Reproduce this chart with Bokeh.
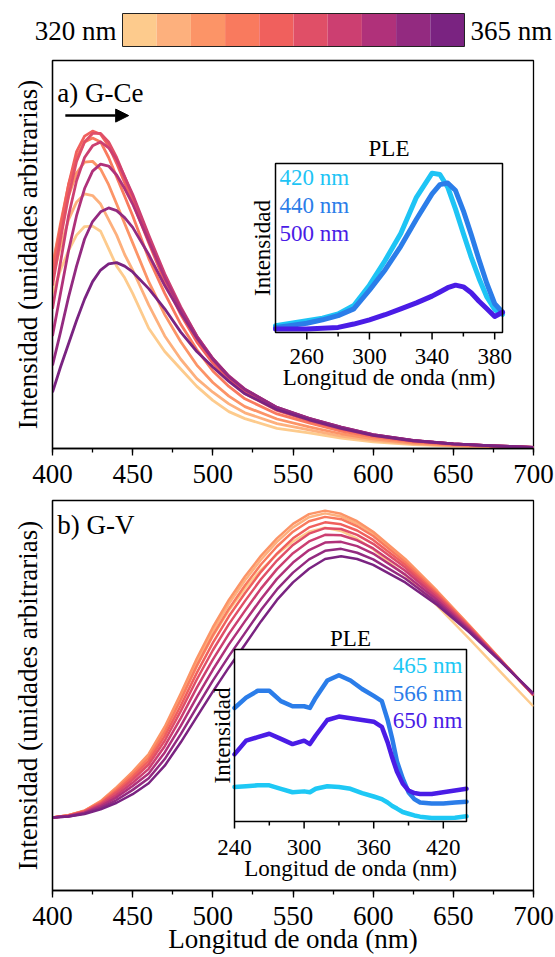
import numpy as np
from bokeh.plotting import figure
from bokeh.layouts import column
from bokeh.models import (Range1d, SingleIntervalTicker, FixedTicker, Arrow, NormalHead,
                          LinearAxis, CustomJSTickFormatter)
from bokeh.core.properties import value
from bokeh.embed import file_html
from bokeh.resources import INLINE

FONT_NAME = "Liberation Serif"

# ---------------- data ----------------
exc_nm = [320, 325, 330, 335, 340, 345, 350, 355, 360, 365]
exc_colors = ["#FDCB8D", "#FDB07D", "#FC9467", "#F97A5E", "#F0605D",
              "#E04F67", "#CC3F71", "#B0317A", "#932A80", "#7A2381"]

# a) G-Ce emission (normalised, arbitrary units)
ce_nm = [400, 405, 410, 415, 420, 425, 430, 435, 440, 445, 450, 460, 470, 480,
         490, 500, 510, 520, 540, 560, 580, 600, 625, 650, 675, 700]
ce_320 = [.40, .46, .51, .55, .572, .573, .56, .515, .47, .44, .40, .31, .25, .205,
          .16, .124, .095, .077, .052, .040, .027, .017, .010, .006, .004, .002]
ce_325 = [.44, .52, .59, .635, .656, .652, .63, .59, .55, .50, .46, .37, .29, .23,
          .18, .145, .115, .092, .064, .048, .032, .021, .012, .007, .004, .002]
ce_330 = [.47, .57, .65, .71, .738, .74, .72, .68, .63, .58, .53, .43, .345, .275,
          .215, .17, .135, .108, .076, .056, .038, .025, .014, .008, .005, .002]
ce_335 = [.47, .58, .68, .75, .79, .80, .79, .75, .70, .65, .60, .49, .40, .32,
          .255, .20, .16, .128, .089, .066, .045, .030, .017, .010, .006, .003]
ce_340 = [.45, .57, .68, .765, .805, .818, .81, .78, .735, .685, .635, .53, .43, .345,
          .275, .22, .177, .142, .098, .072, .050, .033, .019, .011, .007, .003]
ce_345 = [.42, .54, .65, .74, .79, .812, .812, .79, .75, .70, .65, .545, .445, .36,
          .285, .228, .183, .148, .102, .075, .052, .034, .020, .012, .007, .003]
ce_350 = [.36, .48, .60, .69, .75, .78, .79, .775, .745, .70, .655, .55, .45, .365,
          .29, .232, .186, .152, .105, .077, .054, .035, .020, .012, .007, .003]
ce_355 = [.29, .40, .51, .60, .67, .715, .733, .728, .705, .67, .63, .535, .44, .36,
          .29, .232, .187, .153, .106, .078, .055, .036, .021, .012, .007, .003]
ce_360 = [.214, .30, .39, .47, .54, .585, .61, .62, .613, .595, .57, .50, .42, .35,
          .285, .23, .185, .152, .106, .078, .055, .036, .021, .012, .007, .003]
ce_365 = [.145, .21, .27, .33, .385, .43, .46, .476, .479, .47, .455, .412, .36, .30,
          .25, .21, .173, .141, .100, .074, .052, .034, .020, .012, .007, .003]
ce_series = [ce_320, ce_325, ce_330, ce_335, ce_340, ce_345, ce_350, ce_355, ce_360, ce_365]

# b) G-V emission
gv_nm = [400, 410, 420, 430, 440, 450, 460, 470, 480, 490, 500, 510, 520, 530, 540, 550,
         560, 570, 580, 590, 600, 620, 640, 660, 680, 700]
gv_320 = [.187, .193, .204, .227, .261, .298, .342, .41, .49, .575, .652, .718, .774, .822,
          .862, .895, .92, .93, .922, .902, .875, .808, .73, .645, .558, .472]
gv_325 = [.187, .193, .204, .228, .263, .302, .346, .414, .498, .586, .665, .735, .795, .848,
          .894, .931, .957, .967, .959, .941, .915, .846, .766, .679, .59, .50]
gv_330 = [.187, .193, .205, .229, .265, .305, .35, .42, .505, .595, .675, .745, .805, .858,
          .903, .94, .965, .974, .966, .947, .92, .85, .768, .68, .59, .50]
gv_335 = [.187, .193, .204, .227, .26, .298, .34, .407, .489, .576, .654, .722, .782, .836,
          .882, .92, .947, .958, .952, .934, .909, .842, .763, .678, .589, .50]
gv_340 = [.187, .192, .203, .224, .255, .291, .332, .396, .474, .558, .635, .703, .762, .817,
          .864, .903, .931, .944, .939, .923, .899, .835, .759, .676, .589, .501]
gv_345 = [.187, .192, .202, .222, .251, .284, .323, .384, .46, .541, .616, .683, .742, .798,
          .846, .886, .915, .929, .927, .912, .889, .828, .755, .674, .588, .502]
gv_350 = [.187, .191, .20, .219, .245, .276, .312, .37, .442, .52, .592, .658, .717, .774,
          .824, .865, .895, .912, .911, .898, .877, .82, .75, .671, .587, .502]
gv_355 = [.187, .191, .199, .216, .239, .268, .30, .354, .422, .496, .566, .631, .69, .747,
          .799, .841, .873, .892, .894, .883, .864, .81, .744, .668, .587, .503]
gv_360 = [.187, .19, .198, .212, .232, .258, .288, .337, .401, .47, .538, .601, .66, .719,
          .772, .815, .849, .871, .876, .866, .849, .80, .738, .665, .586, .504]
gv_365 = [.187, .19, .196, .208, .225, .247, .275, .32, .38, .445, .51, .572, .63, .69,
          .745, .79, .825, .85, .857, .85, .835, .79, .732, .662, .585, .505]
gv_series = [gv_320, gv_325, gv_330, gv_335, gv_340, gv_345, gv_350, gv_355, gv_360, gv_365]

# PLE insets
pleA_nm = [240, 250, 260, 270, 280, 290, 300, 310, 320, 330, 340, 345, 350, 355,
           360, 365, 370, 375, 380, 385]
pleA_420 = [.04, .055, .07, .085, .11, .16, .28, .426, .586, .80, .943, .935, .86, .73,
            .586, .446, .32, .21, .136, .107]
pleA_440 = [.03, .042, .055, .075, .10, .14, .25, .37, .51, .67, .82, .875, .885, .84,
            .72, .58, .43, .29, .17, .12]
pleA_500 = [.02, .02, .02, .025, .03, .05, .075, .105, .14, .175, .215, .24, .265, .28,
            .27, .235, .185, .14, .095, .12]
pleA_labels = ["420 nm", "440 nm", "500 nm"]
pleA_colors = ["#1EC4F5", "#2B7DE9", "#4A1CE6"]
pleA_ticks = [260, 300, 340, 380]
pleA_minor = [280, 320, 360]

pleB_nm = [240, 250, 260, 270, 280, 290, 300, 305, 310, 320, 330, 340, 350, 360,
           367, 372, 376, 380, 385, 390, 395, 400, 410, 420, 430, 440]
pleB_465 = [.20, .205, .21, .21, .19, .17, .175, .17, .19, .205, .20, .19, .165, .145,
            .13, .11, .09, .075, .055, .045, .035, .028, .02, .02, .022, .03]
pleB_566 = [.66, .72, .76, .76, .70, .67, .67, .66, .72, .82, .85, .82, .77, .73,
            .70, .59, .48, .35, .25, .17, .13, .11, .105, .105, .11, .115]
pleB_650 = [.39, .47, .49, .51, .48, .45, .47, .45, .50, .59, .61, .60, .59, .58,
            .55, .46, .37, .29, .22, .18, .165, .16, .16, .17, .18, .19]
pleB_labels = ["465 nm", "566 nm", "650 nm"]
pleB_colors = ["#1EC8F5", "#2B7DE9", "#4A1CE6"]
pleB_ticks = [240, 300, 360, 420]
pleB_minor = [270, 330, 390]

# ---------------- layout constants ----------------
W = 555
BL, BR = 52, 22          # left / right borders -> frame 52..533
MAIN_FS = "27px"
INS_FS = "23px"


def txt(g, **kw):
    kw.setdefault("text_font", value(FONT_NAME))
    kw.setdefault("text_color", "black")
    kw.setdefault("text_baseline", "middle")
    return g.text(**kw)


def style_main(p):
    p.grid.visible = False
    p.outline_line_color = "black"
    p.outline_line_width = 1.3
    for ax in p.xaxis + p.yaxis:
        ax.axis_line_color = "black"
        ax.axis_line_width = 1.3
        ax.major_tick_line_color = "black"
        ax.minor_tick_line_color = "black"
        ax.major_tick_line_width = 1.3
        ax.minor_tick_line_width = 1.3
        ax.major_tick_in = 0
        ax.minor_tick_in = 0
        ax.major_label_text_font = FONT_NAME
        ax.major_label_text_font_size = MAIN_FS
        ax.major_label_text_color = "black"
        ax.major_label_text_line_height = 1.0
        ax.axis_label_text_font = FONT_NAME
        ax.axis_label_text_font_size = MAIN_FS
        ax.axis_label_text_font_style = "normal"
        ax.axis_label_text_color = "black"
        ax.axis_label_text_line_height = 1.0
    p.xaxis.ticker = SingleIntervalTicker(interval=50, num_minor_ticks=2)
    p.xaxis.major_tick_out = 7
    p.xaxis.minor_tick_out = 4
    p.xaxis.major_label_standoff = 9
    p.yaxis.ticker = FixedTicker(ticks=[])
    p.yaxis.major_tick_out = 0
    p.yaxis.minor_tick_out = 0
    p.yaxis.axis_label = "Intensidad (unidades arbitrarias)"
    p.yaxis.axis_label_standoff = 10


def add_inset(p, nm, series, colors, labels, ticks, minor, xs, xt, yt, h_px,
              lw, legend_left, tick_off, lab_off, title_off, ylab_off, legend_offs):
    x_src = Range1d(*xs)
    y_src = Range1d(0, 1)
    xy = p.subplot(x_source=x_src, y_source=y_src,
                   x_target=Range1d(*xt), y_target=Range1d(*yt))
    xy.quad(left=[x_src.start], right=[x_src.end], bottom=[0], top=[1],
            fill_color="white", line_color=None)
    for ys, c in zip(series, colors):
        xy.line(nm, ys, line_color=c, line_width=lw, line_join="round", line_cap="round")
    xy.quad(left=[x_src.start], right=[x_src.end], bottom=[0], top=[1],
            fill_color=None, line_color="black", line_width=1.5)
    maj = 7.0 / h_px
    mnr = 4.0 / h_px
    xy.segment(x0=ticks, y0=[0] * len(ticks), x1=ticks, y1=[-maj] * len(ticks),
               line_color="black", line_width=1.5)
    xy.segment(x0=minor, y0=[0] * len(minor), x1=minor, y1=[-mnr] * len(minor),
               line_color="black", line_width=1.5)
    txt(xy, x=ticks, y=[0] * len(ticks), text=[str(t) for t in ticks], y_offset=tick_off,
        text_align="center", text_font_size=INS_FS)
    xmid = (x_src.start + x_src.end) / 2
    txt(xy, x=[xmid], y=[0], text=["Longitud de onda (nm)"], y_offset=lab_off,
        text_align="center", text_font_size=INS_FS)
    txt(xy, x=[xmid], y=[1], text=["PLE"], y_offset=title_off,
        text_align="center", text_font_size=INS_FS)
    txt(xy, x=[x_src.start], y=[0.5], text=["Intensidad"], x_offset=ylab_off,
        angle=np.pi / 2, text_align="center", text_font_size=INS_FS)
    if legend_left:
        lx, al, xo = x_src.start, "left", 4
    else:
        lx, al, xo = x_src.end, "right", -4
    for lab, c, off in zip(labels, colors, legend_offs):
        txt(xy, x=[lx], y=[1], text=[lab], x_offset=xo, y_offset=off,
            text_align=al, text_font_size=INS_FS, text_color=c)


# ---------------- colour bar ----------------
cb = figure(width=W, height=54, x_range=Range1d(307.266, 377.588), y_range=Range1d(0, 1),
            toolbar_location=None, output_backend="svg", x_axis_location=None,
            y_axis_location="left", min_border_left=BL, min_border_right=BR,
            min_border_top=0, min_border_bottom=0)
cb.grid.visible = False
cb.outline_line_color = None
half = (exc_nm[1] - exc_nm[0]) / 2
cb.quad(left=[e - half for e in exc_nm], right=[e + half for e in exc_nm],
        bottom=0.148, top=0.759, fill_color=exc_colors, line_color=None)
cb.quad(left=[exc_nm[0] - half], right=[exc_nm[-1] + half], bottom=0.148, top=0.759,
        fill_color=None, line_color="#222222", line_width=1)
cb.add_layout(LinearAxis(), "right")
for ax, lab, so in ((cb.yaxis[0], f"{exc_nm[0]} nm", -64), (cb.yaxis[1], f"{exc_nm[-1]} nm", -63)):
    ax.ticker = FixedTicker(ticks=[0.444])
    ax.formatter = CustomJSTickFormatter(code=f"return '{lab}'")
    ax.axis_line_color = None
    ax.major_tick_line_color = None
    ax.minor_tick_line_color = None
    ax.major_tick_out = 0
    ax.major_tick_in = 0
    ax.major_label_standoff = so
    ax.major_label_text_font = FONT_NAME
    ax.major_label_text_font_size = MAIN_FS
    ax.major_label_text_color = "black"

# ---------------- panel a ----------------
p1 = figure(width=W, height=438, x_range=Range1d(400, 700), y_range=Range1d(0, 1),
            toolbar_location=None, output_backend="svg",
            min_border_left=BL, min_border_right=BR, min_border_top=6, min_border_bottom=44)
style_main(p1)
for ys, c in zip(ce_series, exc_colors):
    p1.line(ce_nm, ys, line_color=c, line_width=2.8, line_join="round")
txt(p1, x=[403], y=[0.9175], text=["a) G-Ce"], text_align="left", text_font_size=MAIN_FS)
p1.add_layout(Arrow(end=NormalHead(size=13, fill_color="black", line_color="black"),
                    x_start=408, y_start=0.858, x_end=447.5, y_end=0.858,
                    line_width=2.5, line_color="black"))
add_inset(p1, pleA_nm, [pleA_420, pleA_440, pleA_500], pleA_colors, pleA_labels,
          pleA_ticks, pleA_minor, xs=(240, 385), xt=(539.09, 680.67), yt=(0.299, 0.7345),
          h_px=169, lw=5, legend_left=True, tick_off=24, lab_off=45, title_off=-15,
          ylab_off=-13, legend_offs=[14, 42, 70])

# ---------------- panel b ----------------
p2 = figure(width=W, height=464, x_range=Range1d(400, 700), y_range=Range1d(0, 1),
            toolbar_location=None, output_backend="svg",
            min_border_left=BL, min_border_right=BR, min_border_top=8, min_border_bottom=66)
style_main(p2)
p2.xaxis.axis_label = "Longitud de onda (nm)"
p2.xaxis.axis_label_standoff = -4
for ys, c in zip(gv_series, exc_colors):
    p2.line(gv_nm, ys, line_color=c, line_width=2.5, line_join="round")
txt(p2, x=[403], y=[0.936], text=["b) G-V"], text_align="left", text_font_size=MAIN_FS)
add_inset(p2, pleB_nm, [pleB_465, pleB_566, pleB_650], pleB_colors, pleB_labels,
          pleB_ticks, pleB_minor, xs=(240, 440), xt=(513.52, 658.22), yt=(0.177, 0.618),
          h_px=172, lw=4.5, legend_left=False, tick_off=26, lab_off=47, title_off=-11,
          ylab_off=-12, legend_offs=[16, 44, 71])

layout = column(cb, p1, p2, spacing=0)
open("out.html", "w").write(file_html(layout, INLINE))
